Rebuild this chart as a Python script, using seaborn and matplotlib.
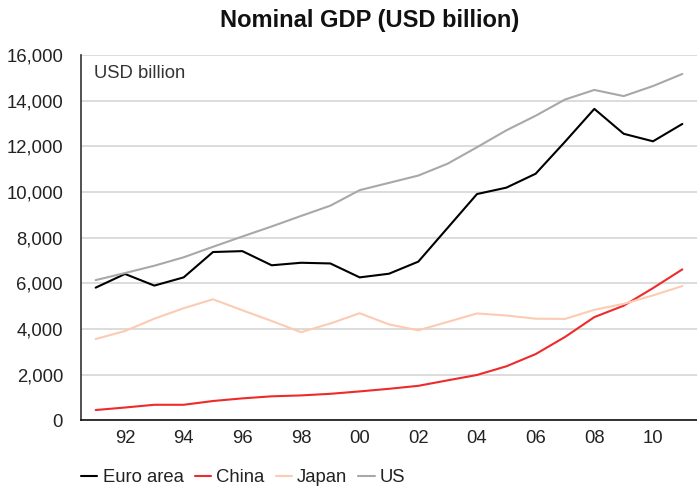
import numpy as np
import pandas as pd
import matplotlib
matplotlib.use("Agg")
import matplotlib.pyplot as plt
import seaborn as sns
from matplotlib.ticker import FixedLocator, FuncFormatter

years = list(range(1991, 2012))
euro_area = [5810, 6410, 5900, 6260, 7370, 7410, 6790, 6900, 6870, 6260, 6420,
             6950, 8430, 9910, 10190, 10800, 12200, 13640, 12550, 12220, 12980]
china = [450, 560, 680, 680, 845, 960, 1050, 1090, 1160, 1265, 1380,
         1510, 1750, 1985, 2365, 2900, 3650, 4520, 5020, 5790, 6610]
japan = [3560, 3910, 4450, 4910, 5300, 4820, 4350, 3860, 4240, 4690, 4200,
         3940, 4310, 4680, 4590, 4450, 4440, 4840, 5100, 5470, 5880]
us = [6140, 6450, 6770, 7140, 7600, 8050, 8490, 8950, 9400, 10080, 10400,
      10720, 11240, 11960, 12700, 13340, 14050, 14470, 14200, 14640, 15170]

series_names = ["Euro area", "China", "Japan", "US"]
colors = {"Euro area": "#000000", "China": "#EE2A2A", "Japan": "#FBCBB3", "US": "#A8A8A8"}
tick_labels = ["92", "94", "96", "98", "00", "02", "04", "06", "08", "10"]

df = pd.DataFrame({
    "year": years * 4,
    "value": euro_area + china + japan + us,
    "series": sum([[n] * len(years) for n in series_names], []),
})

sns.set_style("white")
plt.rcParams["font.family"] = ["Liberation Sans", "DejaVu Sans"]

FS = 13.3

fig = plt.figure(figsize=(6.97, 4.88), dpi=100)
ax = fig.add_axes([81 / 697, 1 - 420.3 / 488, 1 - 81 / 697, (420.3 - 55) / 488])

sns.lineplot(data=df, x="year", y="value", hue="series", hue_order=series_names,
             palette=colors, linewidth=1.5, ax=ax, legend=False)

ax.set_xlim(1990.5, 2011.5)
ax.set_ylim(0, 16000)
ax.set_yticks(np.arange(0, 16001, 2000))
ax.yaxis.set_major_formatter(FuncFormatter(lambda v, p: f"{int(v):,}"))
ax.grid(axis="y", color="#D9D9D9", linewidth=1.3)
ax.set_axisbelow(True)

ax.xaxis.set_major_locator(FixedLocator(np.arange(1990.5, 2012, 1.0)))
ax.xaxis.set_minor_locator(FixedLocator(np.arange(1992, 2011, 2)))
ax.set_xticklabels([], minor=False)
ax.set_xticklabels(tick_labels, minor=True)
ax.tick_params(axis="x", which="major", length=7, width=1.2, color="#333333", direction="out")
ax.tick_params(axis="x", which="minor", length=0, pad=7, labelsize=FS, labelcolor="#222222")
ax.tick_params(axis="y", length=8.4, width=1.2, color="#333333", direction="out", pad=4.5,
               labelsize=FS, labelcolor="#222222")
ax.set_xlabel("")
ax.set_ylabel("")

for s in ["top", "right"]:
    ax.spines[s].set_visible(False)
ax.spines["left"].set_color("#333333")
ax.spines["left"].set_linewidth(1.2)
ax.spines["bottom"].set_color("#111111")
ax.spines["bottom"].set_linewidth(1.2)

ax.text(13 / 616, 0.95, "USD billion", transform=ax.transAxes, fontsize=FS,
        color="#333333", ha="left", va="center")

fig.text(370 / 697, 1 - 20 / 488, "Nominal GDP (USD billion)", ha="center", va="center",
         fontsize=17, fontweight="bold", color="#111111")

handles = [plt.Line2D([], [], color=colors[n], linewidth=1.5) for n in series_names]
fig.legend(handles, series_names, loc="center left", bbox_to_anchor=(81 / 697, 1 - 478 / 488),
           ncol=4, frameon=False, fontsize=FS, handlelength=0.87, handletextpad=0.3,
           columnspacing=0.6, borderpad=0, borderaxespad=0, labelcolor="#222222")

fig.savefig("out.png", dpi=100)
